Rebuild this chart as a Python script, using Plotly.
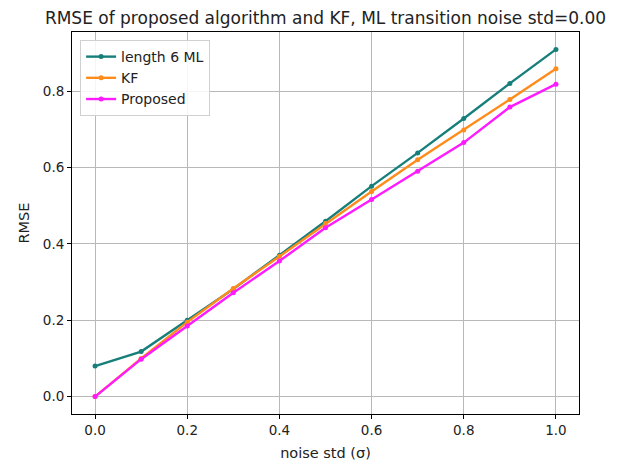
import plotly.graph_objects as go

noise_std = [0.0, 0.1, 0.2, 0.3, 0.4, 0.5, 0.6, 0.7, 0.8, 0.9, 1.0]
ml_rmse = [0.080, 0.118, 0.200, 0.282, 0.370, 0.459, 0.551, 0.638, 0.728, 0.820, 0.909]
kf_rmse = [0.0, 0.100, 0.195, 0.283, 0.367, 0.453, 0.537, 0.620, 0.698, 0.778, 0.858]
proposed_rmse = [0.0, 0.098, 0.185, 0.272, 0.355, 0.442, 0.516, 0.590, 0.665, 0.758, 0.818]

series = [
    ("length 6 ML", ml_rmse, "#177f7a"),
    ("KF", kf_rmse, "#ff8c1a"),
    ("Proposed", proposed_rmse, "#ff1aff"),
]

fig = go.Figure()
for name, vals, color in series:
    fig.add_trace(go.Scatter(
        x=noise_std, y=vals, name=name, mode="lines+markers",
        line=dict(color=color, width=2.4),
        marker=dict(color=color, size=5),
    ))

axis_common = dict(
    showgrid=True, gridcolor="#b8b8b8", gridwidth=1,
    showline=True, linecolor="black", linewidth=1, mirror=True,
    ticks="outside", ticklen=4, tickcolor="black",
    zeroline=False, automargin=False,
    tickfont=dict(family="DejaVu Sans", size=13.5, color="#222"),
)

# page has an 8px body margin, so the figure is laid out 8px smaller
W, H = 612, 453
fig.update_layout(
    width=W, height=H,
    margin=dict(l=64, r=41, t=24, b=47),
    paper_bgcolor="white", plot_bgcolor="white",
    font=dict(family="DejaVu Sans", size=13, color="#222"),
    title=dict(
        text="RMSE of proposed algorithm and KF, ML transition noise std=0.00",
        x=(64 + (W - 41)) / 2 / W, xanchor="center",
        y=1 - 10 / H, yanchor="middle",
        font=dict(family="DejaVu Sans", size=17, color="#222"),
    ),
    xaxis=dict(
        range=[-0.05, 1.05], tickvals=[0.0, 0.2, 0.4, 0.6, 0.8, 1.0],
        ticktext=["0.0", "0.2", "0.4", "0.6", "0.8", "1.0"],
        title=dict(text="noise std (σ)", standoff=11,
                   font=dict(family="DejaVu Sans", size=14.5, color="#222")),
        **axis_common,
    ),
    yaxis=dict(
        range=[-0.0455, 0.9545], tickvals=[0.0, 0.2, 0.4, 0.6, 0.8],
        ticktext=["0.0", "0.2", "0.4", "0.6", "0.8"],
        title=dict(text="RMSE", standoff=9,
                   font=dict(family="DejaVu Sans", size=14.5, color="#222")),
        **axis_common,
    ),
    legend=dict(
        x=0.016, y=0.979, xanchor="left", yanchor="top",
        bgcolor="rgba(255,255,255,0.85)", bordercolor="#d0d0d0", borderwidth=1,
        font=dict(family="DejaVu Sans", size=14, color="#222"),
        tracegroupgap=0, itemwidth=30,
    ),
    showlegend=True,
)

fig.write_html("out.html")
